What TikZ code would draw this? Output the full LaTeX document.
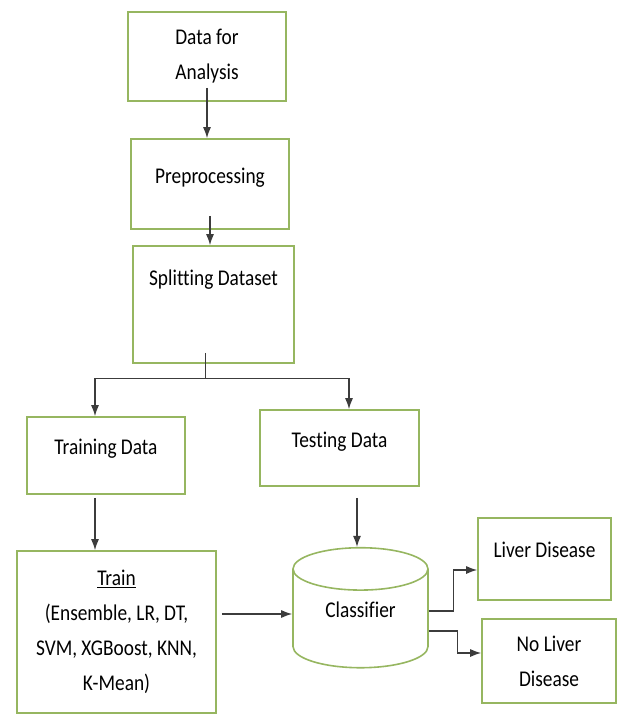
\documentclass[tikz,border=0pt]{standalone}
\usepackage{fontspec}
\setmainfont{Carlito}[FakeStretch=0.86,Ligatures=NoCommon]
\usepackage{tikz}
\usetikzlibrary{positioning}
\usetikzlibrary{arrows.meta}
\usetikzlibrary{shapes,calc}
\definecolor{boxgreen}{RGB}{150,182,96}
\definecolor{linegray}{RGB}{60,60,60}
\tikzset{flow box/.style={rectangle,draw=boxgreen,line width=1.6pt,align=center,inner sep=2pt,font=\fontsize{22.5}{35}\selectfont},
  up text/.style={text height=16pt,text depth=#1},
  store/.style={cylinder,shape border rotate=90,aspect=0.55,draw=boxgreen,line width=1.6pt,font=\fontsize{22.5}{35}\selectfont},
  arrow/.style={->,draw=linegray,line width=1.3pt},
  plain line/.style={draw=linegray,line width=1.3pt}}

\begin{document}
\begin{tikzpicture}[x=1pt,y=-1pt,>={Latex[length=11pt,width=8pt]}]
    \useasboundingbox (0,0) rectangle (624,714);

    \node[flow box,minimum width=158pt,minimum height=89pt] (data) at (207,56.5) {Data for\\Analysis};
    \node[flow box,minimum width=158pt,minimum height=90pt,up text=17.8pt] (pre) at (210,184) {Preprocessing};
    \node[flow box,minimum width=161pt,minimum height=117pt,up text=54.8pt] (split) at (213.5,304.5) {Splitting Dataset};
    \node[flow box,minimum width=158pt,minimum height=77pt,up text=18.8pt] (traindata) at (106,455.5) {Training Data};
    \node[flow box,minimum width=159pt,minimum height=76pt,up text=17.8pt] (testdata) at (339.5,448) {Testing Data};
    \node[flow box,minimum width=199pt,minimum height=162pt] (train) at (116.5,632) {\underline{Train}\\(Ensemble, LR, DT,\\SVM, XGBoost, KNN,\\K-Mean)};
    \node[store,minimum width=135pt,minimum height=120pt,up text=25.6pt] (classifier) at (360.5,622) {Classifier};
    \node[flow box,minimum width=133pt,minimum height=82pt,up text=19.8pt] (liver) at (544.5,559) {Liver Disease};
    \node[flow box,minimum width=134pt,minimum height=84pt] (noliver) at (549,661) {No Liver\\Disease};

    % main flow
    \draw[arrow] ($(data.south)+(0,-14)$) -- (data.south |- pre.north);
    \draw[arrow] ($(pre.south)+(0,-14)$) -- (pre.south |- split.north);
    \coordinate (fork) at ($(split.south)+(-8,15)$);
    \draw[plain line] ($(split.south)+(-8,-11)$) -- (fork);
    \draw[arrow] (fork) -| ($(traindata.north)+(-11,0)$);
    \draw[arrow] (fork) -| ($(testdata.north)+(9.5,0)$);
    \draw[arrow] ($(traindata.south)+(-11,3)$) -- ($(train.north)+(-21.5,0)$);
    \draw[arrow] ($(testdata.south)+(17.5,11)$) -- ($(classifier.north)+(-3.5,0)$);
    \draw[arrow] ($(train.east)+(5,-18)$) coordinate (t) -- (t -| classifier.west);

    % outcomes
    \draw[arrow] ($(classifier.east)+(0,-11)$) -- ++(25,0) |- ($(liver.west)+(0,11)$);
    \draw[arrow] ($(classifier.east)+(0,9)$) -- ++(29,0) |- ($(noliver.west)+(0,-8)$);
\end{tikzpicture}
\end{document}
